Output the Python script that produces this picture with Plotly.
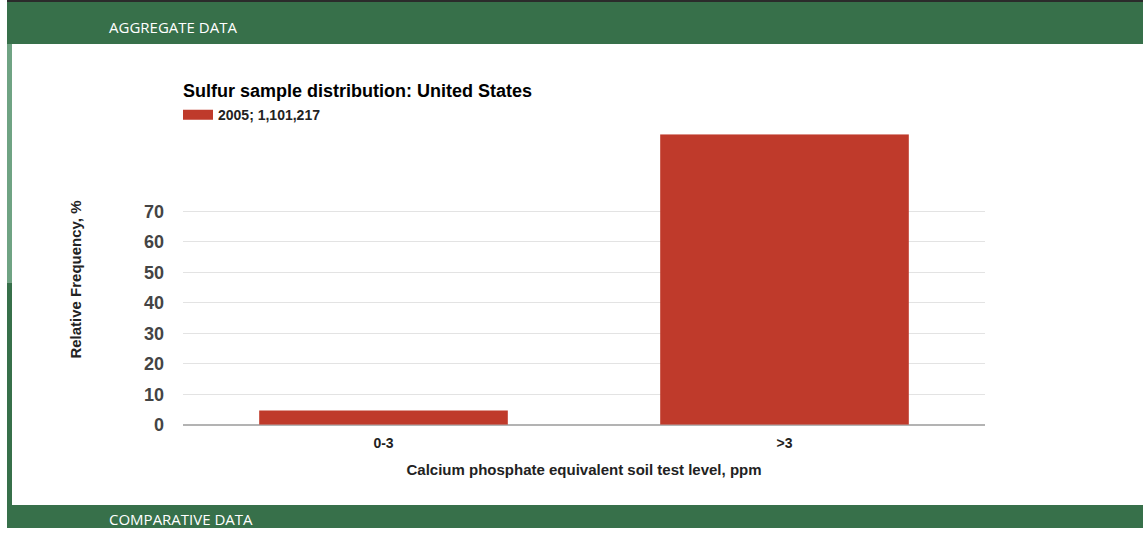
import plotly.graph_objects as go

categories = ["0-3", ">3"]
values = [4.7, 95.3]
series_name = "2005; 1,101,217"
y_ticks = [0, 10, 20, 30, 40, 50, 60, 70]

W, H = 1143, 538
HE = 527  # height the page is actually drawn at
GREEN = "#37704a"
LIGHT = "#6fa383"
RED = "#bf3a2b"
FONT = "Arial, Liberation Sans, sans-serif"

def px_x(x):
    return x / W

def px_y(y):
    return max(0.0, 1 - y / HE)

fig = go.Figure()
fig.add_trace(go.Bar(
    x=categories, y=values, name=series_name,
    marker=dict(color=RED, line=dict(width=0)),
    showlegend=False, legendgroup="s",
))
# legend entry drawn as a wide swatch
fig.add_trace(go.Scatter(
    x=[None], y=[None], mode="lines", name=series_name,
    line=dict(color=RED, width=13), legendgroup="s", showlegend=True,
    hoverinfo="skip",
))

shapes = [
    dict(type="rect", xref="paper", yref="paper", x0=px_x(7), x1=1, y0=px_y(2), y1=1,
         fillcolor="#2b2b2b", line=dict(width=0), layer="below"),
    dict(type="rect", xref="paper", yref="paper", x0=px_x(7), x1=1, y0=px_y(44), y1=px_y(2),
         fillcolor=GREEN, line=dict(width=0), layer="below"),
    dict(type="rect", xref="paper", yref="paper", x0=px_x(7), x1=px_x(12), y0=px_y(282), y1=px_y(44),
         fillcolor=LIGHT, line=dict(width=0), layer="below"),
    dict(type="rect", xref="paper", yref="paper", x0=px_x(7), x1=px_x(12), y0=px_y(504), y1=px_y(282),
         fillcolor=GREEN, line=dict(width=0), layer="below"),
    dict(type="rect", xref="paper", yref="paper", x0=px_x(7), x1=1, y0=0, y1=px_y(504),
         fillcolor=GREEN, line=dict(width=0), layer="below"),
]

annotations = [
    dict(text="AGGREGATE DATA", xref="paper", yref="paper", x=px_x(107), y=px_y(27),
         xanchor="left", yanchor="middle", showarrow=False,
         font=dict(family="Open Sans", size=15, color="#ffffff")),
    dict(text="COMPARATIVE DATA", xref="paper", yref="paper", x=px_x(107), y=px_y(518),
         xanchor="left", yanchor="middle", showarrow=False,
         font=dict(family="Open Sans", size=15, color="#ffffff")),
]

fig.update_layout(
    width=W, height=H,
    margin=dict(l=0, r=0, t=0, b=0),
    paper_bgcolor="white", plot_bgcolor="white",
    font=dict(family=FONT),
    bargap=0.38,
    title=dict(text="Sulfur sample distribution: United States",
               x=px_x(183), xanchor="left", xref="paper",
               y=px_y(91), yanchor="middle", yref="paper",
               font=dict(family=FONT, size=18, color="#000000", weight="bold")),
    showlegend=True,
    legend=dict(x=px_x(178), y=px_y(115), xanchor="left", yanchor="middle",
                xref="paper", yref="paper", bgcolor="rgba(0,0,0,0)",
                font=dict(family=FONT, size=14, color="#222222", weight="bold"),
                itemwidth=30),
    xaxis=dict(domain=[px_x(183), px_x(985)],
               showgrid=False, showline=False, ticks="",
               tickfont=dict(family=FONT, size=14, color="#222222", weight="bold"),
               ticklabelstandoff=8,
               title=dict(text="Calcium phosphate equivalent soil test level, ppm",
                          font=dict(family=FONT, size=15, color="#222222", weight="bold"),
                          standoff=14)),
    yaxis=dict(domain=[px_y(424), px_y(134)], range=[0, 95.3],
               tickvals=y_ticks, ticktext=[str(v) for v in y_ticks],
               showgrid=True, gridcolor="#e3e3e3", gridwidth=1,
               zeroline=True, zerolinecolor="#b3b3b3", zerolinewidth=2,
               showline=False, ticks="",
               tickfont=dict(family=FONT, size=18, color="#444444", weight="bold"),
               ticklabelstandoff=18,
               title=dict(text="Relative Frequency, %",
                          font=dict(family=FONT, size=15, color="#222222", weight="bold"),
                          standoff=58)),
    shapes=shapes,
    annotations=annotations,
)

post = (
    "document.documentElement.style.margin='0';"
    "document.body.style.margin='0';"
)

fig.write_html("out.html", config={"displayModeBar": False}, post_script=post)
